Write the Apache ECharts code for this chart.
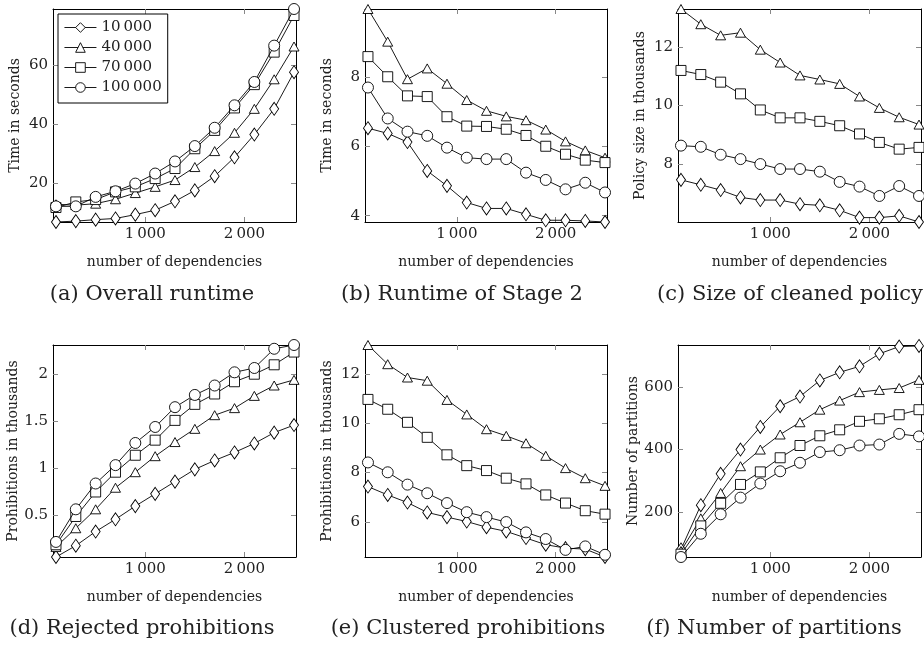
<!DOCTYPE html>
<html>
<head>
<meta charset="utf-8">
<script src="https://cdn.jsdelivr.net/npm/echarts@6/dist/echarts.min.js"></script>
<style>
  html, body { margin: 0; padding: 0; background: #fff; }
  #chart { width: 924px; height: 646px; }
</style>
</head>
<body>
<div id="chart"></div>
<script>
// numero de dependencias (eje x comun)
const deps = [100, 300, 500, 700, 900, 1100, 1300, 1500, 1700, 1900, 2100, 2300, 2500];
const seriesNames = ['10\u2009000', '40\u2009000', '70\u2009000', '100\u2009000'];

// (a) tiempo total
const runtime10 = [6.9, 7.2, 7.7, 8.1, 9.4, 10.9, 13.9, 17.6, 22.4, 28.8, 36.5, 45.2, 57.6];
const runtime40 = [12.9, 12.6, 13.1, 14.6, 16.7, 18.8, 21.1, 25.5, 30.9, 37.1, 45.2, 55.2, 66.3];
const runtime70 = [11.8, 13.7, 14.5, 17.1, 18.8, 21.6, 25.0, 31.7, 37.9, 45.5, 53.4, 64.4, 76.8];
const runtime100 = [12.2, 12.2, 15.4, 17.3, 19.9, 23.3, 27.4, 32.6, 38.8, 46.4, 54.3, 66.6, 79.0];

// (b) etapa 2
const stage10 = [6.52, 6.37, 6.12, 5.29, 4.86, 4.38, 4.21, 4.21, 4.04, 3.87, 3.87, 3.85, 3.82];
const stage40 = [9.95, 9.01, 7.93, 8.24, 7.80, 7.33, 7.02, 6.86, 6.75, 6.48, 6.14, 5.88, 5.67];
const stage70 = [8.58, 8.0, 7.45, 7.43, 6.85, 6.58, 6.57, 6.49, 6.31, 6.0, 5.77, 5.60, 5.53];
const stage100 = [7.69, 6.80, 6.42, 6.30, 5.96, 5.67, 5.63, 5.63, 5.24, 5.03, 4.76, 4.95, 4.67];

// (c) politica limpia
const policy10 = [7.46, 7.29, 7.11, 6.86, 6.77, 6.77, 6.63, 6.59, 6.42, 6.17, 6.17, 6.23, 6.02];
const policy40 = [13.3, 12.78, 12.4, 12.49, 11.91, 11.47, 11.03, 10.89, 10.74, 10.31, 9.92, 9.60, 9.35];
const policy70 = [11.2, 11.06, 10.8, 10.4, 9.85, 9.58, 9.58, 9.46, 9.31, 9.03, 8.74, 8.51, 8.57];
const policy100 = [8.63, 8.59, 8.32, 8.17, 8.0, 7.83, 7.83, 7.74, 7.39, 7.23, 6.91, 7.25, 6.91];

// (d) prohibiciones rechazadas
const rejected10 = [0.06, 0.18, 0.33, 0.46, 0.60, 0.73, 0.86, 0.99, 1.085, 1.17, 1.265, 1.38, 1.46];
const rejected40 = [0.167, 0.365, 0.566, 0.795, 0.96, 1.13, 1.28, 1.42, 1.565, 1.64, 1.77, 1.88, 1.94];
const rejected70 = [0.19, 0.49, 0.75, 0.96, 1.14, 1.30, 1.51, 1.68, 1.79, 1.92, 2.0, 2.10, 2.235];
const rejected100 = [0.22, 0.566, 0.84, 1.035, 1.27, 1.44, 1.65, 1.78, 1.88, 2.02, 2.066, 2.27, 2.31];

// (e) prohibiciones agrupadas
const clustered10 = [7.43, 7.09, 6.78, 6.38, 6.19, 6.01, 5.78, 5.61, 5.34, 5.07, 4.93, 4.89, 4.57];
const clustered40 = [13.18, 12.4, 11.86, 11.73, 10.95, 10.36, 9.76, 9.49, 9.19, 8.68, 8.18, 7.77, 7.46];
const clustered70 = [10.97, 10.57, 10.04, 9.43, 8.72, 8.28, 8.08, 7.77, 7.54, 7.09, 6.76, 6.45, 6.31];
const clustered100 = [8.41, 8.01, 7.51, 7.16, 6.76, 6.39, 6.19, 5.99, 5.57, 5.30, 4.86, 5.0, 4.66];

// (f) particiones
const parts10 = [82, 223, 323, 400, 472, 538, 569, 620, 646, 665, 705, 728, 730];
const parts40 = [77, 181, 262, 347, 400, 448, 487, 527, 556, 583, 590, 596, 622];
const parts70 = [67, 157, 229, 289, 329, 374, 413, 444, 463, 490, 498, 511, 527];
const parts100 = [58, 132, 194, 247, 292, 331, 358, 392, 398, 413, 416, 450, 442];

const xTicks = [1000, 2000];

// paneles: datos, eje y, etiquetas
const panels = [
  { data: [runtime10, runtime40, runtime70, runtime100], yMin: 6.9, yMax: 79, yTicks: [20, 40, 60],
    yName: 'Time in seconds', caption: '(a) Overall runtime' },
  { data: [stage10, stage40, stage70, stage100], yMin: 3.82, yMax: 9.95, yTicks: [4, 6, 8],
    yName: 'Time in seconds', caption: '(b) Runtime of Stage 2' },
  { data: [policy10, policy40, policy70, policy100], yMin: 6.02, yMax: 13.3, yTicks: [8, 10, 12],
    yName: 'Policy size in thousands', caption: '(c) Size of cleaned policy' },
  { data: [rejected10, rejected40, rejected70, rejected100], yMin: 0.06, yMax: 2.31, yTicks: [0.5, 1, 1.5, 2],
    yName: 'Prohibitions in thousands', caption: '(d) Rejected prohibitions' },
  { data: [clustered10, clustered40, clustered70, clustered100], yMin: 4.57, yMax: 13.18, yTicks: [6, 8, 10, 12],
    yName: 'Prohibitions in thousands', caption: '(e) Clustered prohibitions' },
  { data: [parts10, parts40, parts70, parts100], yMin: 58, yMax: 733, yTicks: [200, 400, 600],
    yName: 'Number of partitions', caption: '(f) Number of partitions' }
];

// posiciones de las graficas
const gridLeft = [53, 365, 678];
const gridWidth = [243, 242, 243];
const gridTop = [9, 345];
const gridHeight = [213, 212];
const captionX = [152, 462, 790, 142, 468, 774];
const captionY = [295, 629];

const symbols = ['diamond', 'triangle', 'rect', 'circle'];
const symbolSizes = [[9, 13], [10, 9], [10, 10], [11, 11]];

const FONT = 'DejaVu Serif';

var chartDom = document.getElementById('chart');
var myChart = echarts.init(chartDom);

let grids = [], xAxes = [], yAxes = [], series = [], graphics = [];

function fmtNum(v) {
  return v >= 1000 ? String(v).replace(/(\d)(\d{3})$/, '$1\u2009$2') : String(v);
}

panels.forEach((p, i) => {
  const col = i % 3, row = Math.floor(i / 3);
  grids.push({ left: gridLeft[col], top: gridTop[row], width: gridWidth[col], height: gridHeight[row] });

  const baseX = {
    type: 'value', gridIndex: i, min: 70, max: 2520,
    splitLine: { show: false },
    axisLine: { lineStyle: { color: '#000', width: 1 } },
    axisTick: { inside: true, length: 5, customValues: xTicks, lineStyle: { color: '#888' } }
  };
  xAxes.push(Object.assign({}, baseX, {
    position: 'bottom',
    name: 'number of dependencies', nameLocation: 'middle', nameGap: 33,
    nameTextStyle: { fontFamily: FONT, fontSize: 14, color: '#222' },
    axisLabel: { customValues: xTicks, formatter: fmtNum, margin: 5, fontFamily: FONT, fontSize: 15, color: '#222' }
  }));
  xAxes.push(Object.assign({}, baseX, { position: 'top', axisLabel: { show: false } }));

  const baseY = {
    type: 'value', gridIndex: i, min: p.yMin, max: p.yMax,
    splitLine: { show: false },
    axisLine: { show: true, lineStyle: { color: '#000', width: 1 } },
    axisTick: { show: true, inside: true, length: 5, customValues: p.yTicks, lineStyle: { color: '#888' } }
  };
  yAxes.push(Object.assign({}, baseY, {
    position: 'left',
    name: p.yName, nameLocation: 'middle', nameGap: 31, nameRotate: 90,
    nameTextStyle: { fontFamily: FONT, fontSize: 14, color: '#222' },
    axisLabel: { customValues: p.yTicks, margin: 5, fontFamily: FONT, fontSize: 15, color: '#222' }
  }));
  yAxes.push(Object.assign({}, baseY, { position: 'right', axisLabel: { show: false } }));

  p.data.forEach((vals, k) => {
    series.push({
      type: 'line',
      name: seriesNames[k],
      xAxisIndex: 2 * i, yAxisIndex: 2 * i,
      data: deps.map((d, j) => [d, vals[j]]),
      symbol: symbols[k], symbolSize: symbolSizes[k],
      showAllSymbol: true,
      lineStyle: { color: '#000', width: 0.9 },
      itemStyle: { color: '#fff', borderColor: '#000', borderWidth: 0.9 },
      animation: false,
      z: 2 + k
    });
  });

  graphics.push({
    type: 'text', x: captionX[i], y: captionY[row],
    style: { text: p.caption, font: '21px "' + FONT + '"', fill: '#222', textAlign: 'center', textVerticalAlign: 'middle' }
  });
});

var option = {
  backgroundColor: '#fff',
  animation: false,
  grid: grids,
  xAxis: xAxes,
  yAxis: yAxes,
  series: series,
  graphic: graphics,
  legend: {
    data: seriesNames,
    orient: 'vertical', left: 58, top: 14,
    itemWidth: 32, itemHeight: 12, itemGap: 5,
    padding: [6, 6, 8, 6],
    borderColor: '#000', borderWidth: 1, backgroundColor: '#fff',
    lineStyle: { width: 0.9 },
    itemStyle: { borderWidth: 0.9 },
    textStyle: { fontFamily: FONT, fontSize: 15, color: '#222' }
  }
};
option && myChart.setOption(option);
</script>
</body>
</html>
